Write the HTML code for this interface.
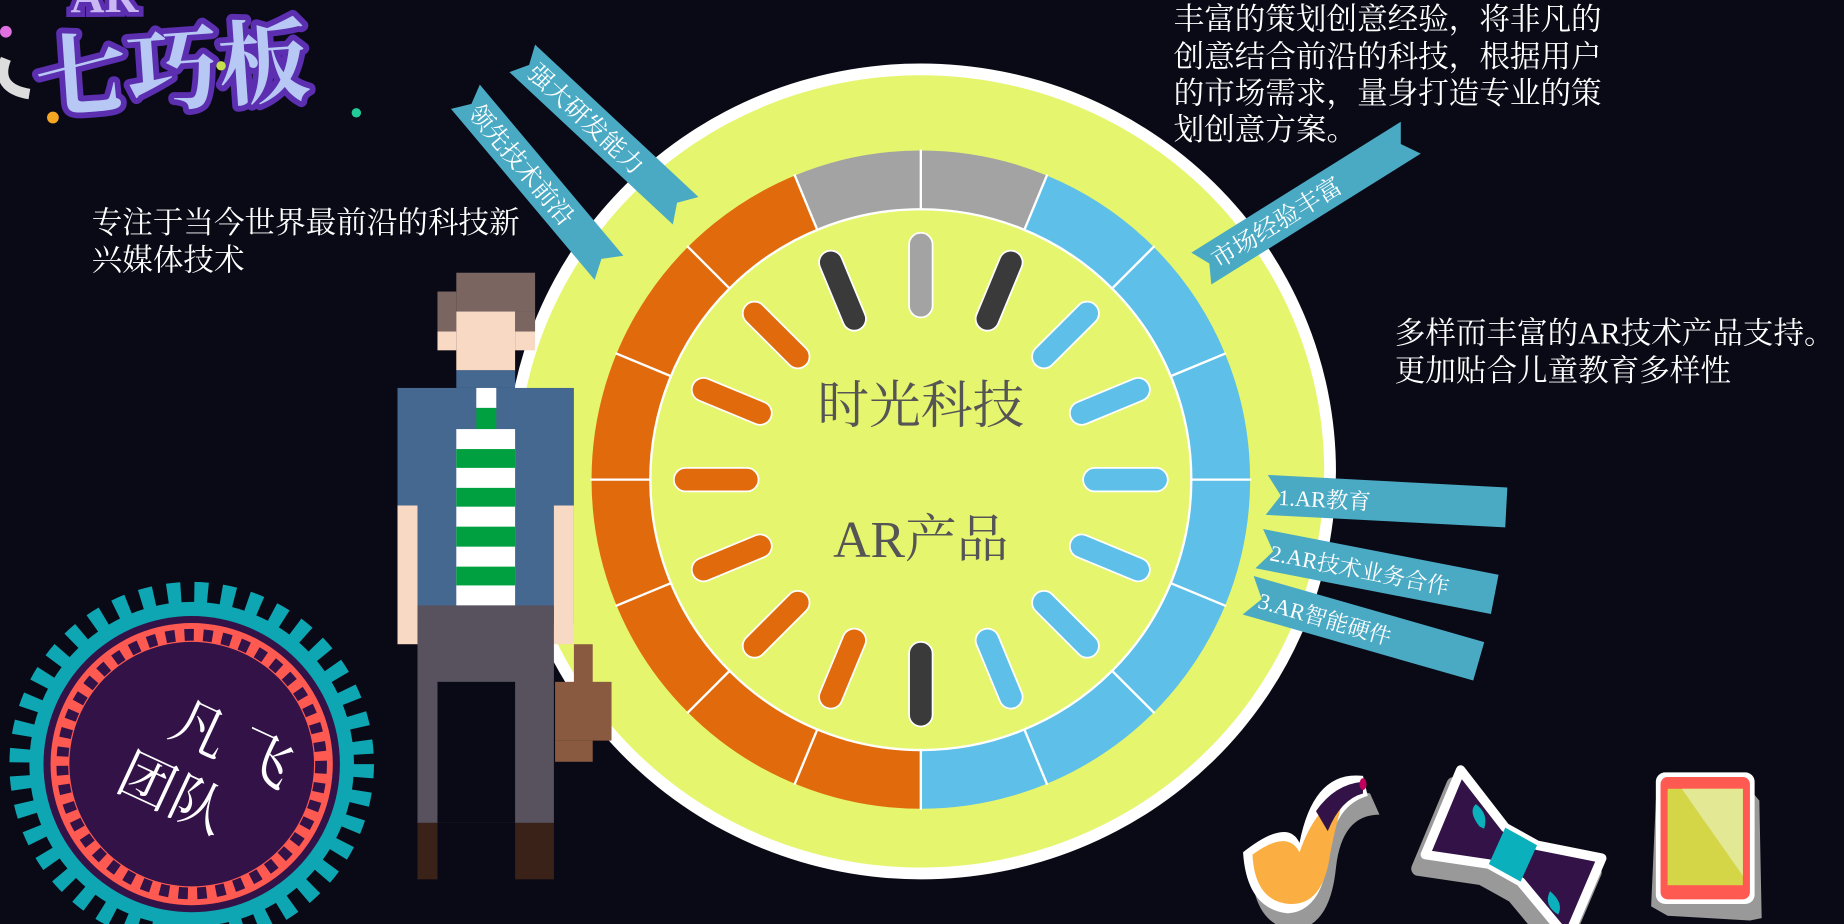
<!DOCTYPE html>
<html><head><meta charset="utf-8"><style>
html,body{margin:0;padding:0;background:#0a0a16;overflow:hidden}
svg{display:block}
text{font-family:"Liberation Serif","Noto Serif CJK SC","Noto Sans CJK SC",serif}
</style></head><body>
<svg width="1844" height="924" viewBox="0 0 1568 786" preserveAspectRatio="none" xmlns="http://www.w3.org/2000/svg">
<rect width="1568" height="786" fill="#0a0a16"/>

<!-- logo -->
<g>
<path d="M5,50 Q-5,75 25,80" stroke="#ddd" stroke-width="9" fill="none"/>
<text x="32" y="95" font-size="78" font-weight="bold" fill="#b8c8f4" stroke="#5b2fb0" stroke-width="10" paint-order="stroke" stroke-linejoin="round" font-family="'Noto Sans CJK SC',sans-serif" transform="rotate(-4 32 95)">七巧板</text>
<text x="60" y="10" font-size="40" font-weight="bold" fill="#c9b8f4" stroke="#5b2fb0" stroke-width="8" paint-order="stroke" font-family="'Liberation Sans',sans-serif">AR</text>
<circle cx="45" cy="100" r="5" fill="#f5a623"/><circle cx="188" cy="56" r="4" fill="#c5e04c"/>
<circle cx="303" cy="96" r="4" fill="#2c9"/><circle cx="5" cy="27" r="5" fill="#e070e0"/>
</g>

<!-- big circle -->
<ellipse cx="783" cy="401" rx="353" ry="347" fill="#ffffff"/>
<ellipse cx="783" cy="401" rx="343" ry="337" fill="#e6f56e"/>

<!-- ring -->
<g transform="translate(783 408)">
<circle r="255" fill="none" stroke="#a3a3a3" stroke-width="50" stroke-dasharray="200.28 1402" transform="rotate(-112.5)"/>
<circle r="255" fill="none" stroke="#5ec0e8" stroke-width="50" stroke-dasharray="701 901" transform="rotate(-67.5)"/>
<circle r="255" fill="none" stroke="#e06a0c" stroke-width="50" stroke-dasharray="701 901" transform="rotate(90)"/>
<g stroke="#fff" stroke-width="2">
<line x1="0" y1="-229" x2="0" y2="-281"/>
<line x1="0" y1="-229" x2="0" y2="-281" transform="rotate(22.5)"/>
<line x1="0" y1="-229" x2="0" y2="-281" transform="rotate(45)"/>
<line x1="0" y1="-229" x2="0" y2="-281" transform="rotate(67.5)"/>
<line x1="0" y1="-229" x2="0" y2="-281" transform="rotate(90)"/>
<line x1="0" y1="-229" x2="0" y2="-281" transform="rotate(112.5)"/>
<line x1="0" y1="-229" x2="0" y2="-281" transform="rotate(135)"/>
<line x1="0" y1="-229" x2="0" y2="-281" transform="rotate(157.5)"/>
<line x1="0" y1="-229" x2="0" y2="-281" transform="rotate(180)"/>
<line x1="0" y1="-229" x2="0" y2="-281" transform="rotate(202.5)"/>
<line x1="0" y1="-229" x2="0" y2="-281" transform="rotate(225)"/>
<line x1="0" y1="-229" x2="0" y2="-281" transform="rotate(247.5)"/>
<line x1="0" y1="-229" x2="0" y2="-281" transform="rotate(270)"/>
<line x1="0" y1="-229" x2="0" y2="-281" transform="rotate(292.5)"/>
<line x1="0" y1="-229" x2="0" y2="-281" transform="rotate(315)"/>
<line x1="0" y1="-229" x2="0" y2="-281" transform="rotate(337.5)"/>
</g>
<circle r="230" fill="none" stroke="#fff" stroke-width="2"/>
<!-- bars -->
<g stroke="#fff" stroke-width="1.5">
<rect x="-10" y="-210" width="20" height="72" rx="10" fill="#a3a3a3"/>
<rect x="-10" y="-210" width="20" height="72" rx="10" fill="#3a3a3a" transform="rotate(22.5)"/>
<rect x="-10" y="-210" width="20" height="72" rx="10" fill="#5ec0e8" transform="rotate(45)"/>
<rect x="-10" y="-210" width="20" height="72" rx="10" fill="#5ec0e8" transform="rotate(67.5)"/>
<rect x="-10" y="-210" width="20" height="72" rx="10" fill="#5ec0e8" transform="rotate(90)"/>
<rect x="-10" y="-210" width="20" height="72" rx="10" fill="#5ec0e8" transform="rotate(112.5)"/>
<rect x="-10" y="-210" width="20" height="72" rx="10" fill="#5ec0e8" transform="rotate(135)"/>
<rect x="-10" y="-210" width="20" height="72" rx="10" fill="#5ec0e8" transform="rotate(157.5)"/>
<rect x="-10" y="-210" width="20" height="72" rx="10" fill="#3a3a3a" transform="rotate(180)"/>
<rect x="-10" y="-210" width="20" height="72" rx="10" fill="#e06a0c" transform="rotate(202.5)"/>
<rect x="-10" y="-210" width="20" height="72" rx="10" fill="#e06a0c" transform="rotate(225)"/>
<rect x="-10" y="-210" width="20" height="72" rx="10" fill="#e06a0c" transform="rotate(247.5)"/>
<rect x="-10" y="-210" width="20" height="72" rx="10" fill="#e06a0c" transform="rotate(270)"/>
<rect x="-10" y="-210" width="20" height="72" rx="10" fill="#e06a0c" transform="rotate(292.5)"/>
<rect x="-10" y="-210" width="20" height="72" rx="10" fill="#e06a0c" transform="rotate(315)"/>
<rect x="-10" y="-210" width="20" height="72" rx="10" fill="#3a3a3a" transform="rotate(337.5)"/>
</g>
<text x="0" y="-48" font-size="44" fill="#555" text-anchor="middle">时光科技</text>
<text x="0" y="66" font-size="44" fill="#555" text-anchor="middle">AR产品</text>
</g>

<!-- ribbons -->
<g fill="#4aaac4">
<g transform="translate(455 38) rotate(43)">
<polygon points="0,0 190,0 180,16 190,32 0,32 8,16"/>
<text x="12" y="24" font-size="21" fill="#fff">强大研发能力</text>
</g>
<g transform="translate(408 72) rotate(50)">
<polygon points="0,0 190,0 180,16 190,32 0,32 8,16"/>
<text x="12" y="24" font-size="21" fill="#fff">领先技术前沿</text>
</g>
<g transform="translate(1030 242) rotate(-32)">
<polygon points="0,-32 210,-32 200,-16 210,0 0,0 8,-16"/>
<text x="12" y="-8" font-size="21" fill="#fff">市场经验丰富</text>
</g>
<g transform="translate(1078 404) rotate(3)">
<polygon points="0,0 204,0 204,34 0,34 12,17"/>
<text x="10" y="25" font-size="19" fill="#fff">1.AR教育</text>
</g>
<g transform="translate(1074 450) rotate(11)">
<polygon points="0,0 204,0 204,34 0,34 12,17"/>
<text x="10" y="25" font-size="19" fill="#fff">2.AR技术业务合作</text>
</g>
<g transform="translate(1066 490) rotate(16)">
<polygon points="0,0 204,0 204,34 0,34 12,17"/>
<text x="10" y="25" font-size="19" fill="#fff">3.AR智能硬件</text>
</g>
</g>

<!-- texts -->
<g fill="#fff" font-size="26">
<text x="998" y="25">丰富的策划创意经验，将非凡的</text>
<text x="998" y="57">创意结合前沿的科技，根据用户</text>
<text x="998" y="88">的市场需求，量身打造专业的策</text>
<text x="998" y="119">划创意方案。</text>
<text x="78" y="198">专注于当今世界最前沿的科技新</text>
<text x="78" y="230">兴媒体技术</text>
<text x="1186" y="292">多样而丰富的AR技术产品支持。</text>
<text x="1186" y="324">更加贴合儿童教育多样性</text>
</g>

<!-- pixel man -->
<g>
<rect x="388" y="232" width="67" height="33" fill="#7a6560"/>
<rect x="372" y="248" width="16" height="34" fill="#7a6560"/>
<rect x="438" y="265" width="17" height="17" fill="#7a6560"/>
<rect x="388" y="265" width="50" height="50" fill="#f8d9c4"/>
<rect x="372" y="282" width="16" height="16" fill="#f8d9c4"/>
<rect x="438" y="282" width="17" height="16" fill="#f8d9c4"/>
<rect x="338" y="330" width="150" height="200" fill="#456890"/>
<rect x="388" y="315" width="50" height="15" fill="#456890"/>
<rect x="405" y="330" width="17" height="17" fill="#fff"/>
<rect x="405" y="347" width="17" height="18" fill="#00a040"/>
<rect x="388" y="365" width="50" height="150" fill="#fff"/>
<rect x="388" y="382" width="50" height="16" fill="#00a040"/>
<rect x="388" y="415" width="50" height="16" fill="#00a040"/>
<rect x="388" y="448" width="50" height="17" fill="#00a040"/>
<rect x="388" y="482" width="50" height="16" fill="#00a040"/>
<rect x="338" y="430" width="17" height="118" fill="#f8d9c4"/>
<rect x="471" y="430" width="17" height="118" fill="#f8d9c4"/>
<rect x="355" y="515" width="116" height="185" fill="#58525e"/>
<rect x="372" y="580" width="66" height="120" fill="#0a0a16"/>
<rect x="355" y="700" width="17" height="48" fill="#3a2218"/>
<rect x="438" y="700" width="33" height="48" fill="#3a2218"/>
<rect x="488" y="548" width="16" height="35" fill="#8a5a40"/>
<rect x="472" y="580" width="48" height="50" fill="#8a5a40"/>
<rect x="472" y="630" width="32" height="18" fill="#8a5a40"/>
</g>

<!-- badge -->
<g transform="translate(163 650)">
<circle r="138" fill="#0fa6b4"/>
<circle r="146" fill="none" stroke="#0fa6b4" stroke-width="18" stroke-dasharray="11.5 11.5"/>
<circle r="126" fill="#321247"/>
<circle r="120" fill="#ff5a52"/>
<circle r="110" fill="none" stroke="#321247" stroke-width="10" stroke-dasharray="8 8"/>
<circle r="104" fill="#321247"/>
<text x="-30" y="-14" font-size="48" fill="#fff" transform="rotate(25)">凡 飞</text>
<text x="-52" y="46" font-size="48" fill="#fff" transform="rotate(25)">团队</text>
</g>

<!-- pipe -->
<g transform="translate(1055 655)">
<path d="M8,62 Q40,40 48,60 Q62,0 104,12 L112,30 Q80,30 75,75 Q70,125 40,128 Q5,125 3,75 Z" fill="#999" transform="translate(6 8)"/>
<path d="M2,70 Q40,40 50,62 Q62,0 104,5 L108,22 Q80,30 75,70 Q70,120 40,122 Q5,118 2,70 Z" fill="#fff"/>
<path d="M10,72 Q40,50 50,70 Q64,30 88,22 Q80,50 76,72 Q70,115 42,114 Q12,112 10,72 Z" fill="#fbae41"/>
<path d="M64,35 Q80,12 104,10 L104,20 Q85,25 74,52 Z" fill="#321247"/>
<ellipse cx="104" cy="12" rx="3" ry="5" fill="#c0005a"/>
</g>

<!-- bow tie -->
<g stroke-linejoin="round">
<g transform="translate(-6 12)" fill="#999" stroke="#999" stroke-width="12">
<polygon points="1242,655 1280,704 1307,719 1362,730 1333,798 1293,750 1266,735 1212,727"/>
</g>
<g fill="#321247" stroke="#fff" stroke-width="8">
<polygon points="1242,655 1280,704 1307,719 1362,730 1333,798 1293,750 1266,735 1212,727"/>
</g>
<polygon points="1280,704 1307,719 1293,750 1266,735" fill="#0bb0bd"/>
<path d="M1258,703 Q1248,690 1255,684 Q1266,692 1262,705 Z" fill="#0bb0bd"/>
<path d="M1318,758 Q1330,768 1325,778 Q1312,770 1318,758 Z" fill="#0bb0bd"/>
</g>

<!-- tablet -->
<g transform="translate(1408 657)">
<polygon points="0,20 10,8 78,8 88,20 90,120 80,122 10,118 -4,110" fill="#999" transform="translate(0 4)"/>
<rect x="0" y="0" width="84" height="112" rx="8" fill="#fff"/>
<rect x="4" y="4" width="76" height="104" rx="6" fill="#ff5a52"/>
<rect x="10" y="14" width="64" height="82" fill="#d4d647"/>
<polygon points="22,14 74,14 74,88" fill="#e2e894"/>
</g>
</svg>
</body></html>
